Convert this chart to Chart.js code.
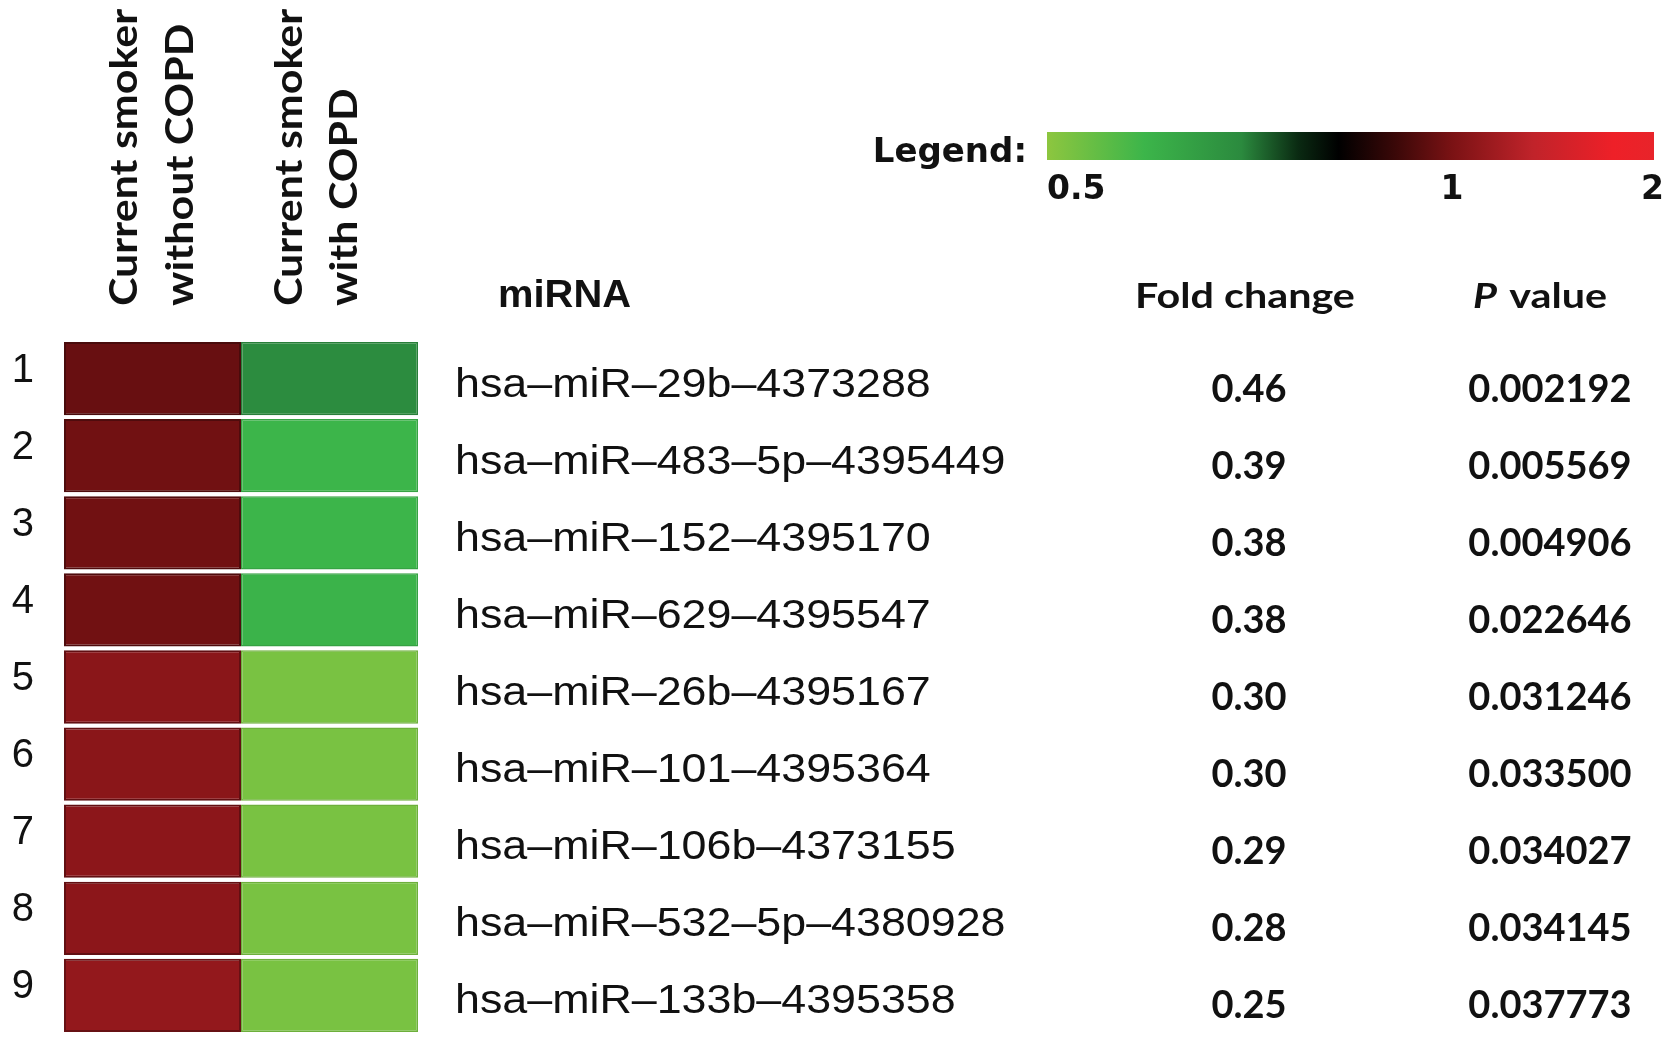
<!DOCTYPE html>
<html>
<head>
<meta charset="utf-8">
<title>miRNA heatmap</title>
<script src="https://cdn.jsdelivr.net/npm/chart.js@4.4.1/dist/chart.umd.min.js"></script>
<style>
  html, body { margin: 0; padding: 0; background: #fff; }
  #wrap { width: 1677px; height: 1048px; position: relative; }
</style>
</head>
<body>
<div id="wrap"><canvas id="heatChart"></canvas></div>
<script>
// --- dados ---
const rowNumbers = ['1', '2', '3', '4', '5', '6', '7', '8', '9'];
const mirnaNames = [
    'hsa–miR–29b–4373288',
    'hsa–miR–483–5p–4395449',
    'hsa–miR–152–4395170',
    'hsa–miR–629–4395547',
    'hsa–miR–26b–4395167',
    'hsa–miR–101–4395364',
    'hsa–miR–106b–4373155',
    'hsa–miR–532–5p–4380928',
    'hsa–miR–133b–4395358'
];
const foldChange = [0.46, 0.39, 0.38, 0.38, 0.30, 0.30, 0.29, 0.28, 0.25];
const pValues = [0.002192, 0.005569, 0.004906, 0.022646, 0.031246, 0.033500, 0.034027, 0.034145, 0.037773];
const groupHeaders = [['Current smoker', 'without COPD'], ['Current smoker', 'with COPD']];
const heatWithoutCOPD = [0.98, 0.99, 0.99, 0.99, 1.09, 1.09, 1.10, 1.10, 1.14];
const heatWithCOPD = [0.735, 0.62, 0.62, 0.625, 0.53, 0.53, 0.53, 0.53, 0.53];
const legendTicks = [0.5, 1, 2];

// escala de cor (valor -> cor), mesma usada na legenda
const colourStops = [
    [0.50, '#8dc63f'],
    [0.62, '#3cb54a'],
    [0.74, '#2b8a3e'],
    [0.81, '#0a2a12'],
    [0.86, '#000000'],
    [0.93, '#3a0808'],
    [1.00, '#7a1214'],
    [1.40, '#c0232a'],
    [1.80, '#ee2028'],
    [2.00, '#e8242a']
];

const hexToRgb = (hex) => {
    const n = parseInt(hex.replace('#', ''), 16);
    return [(n >> 16) & 255, (n >> 8) & 255, n & 255];
};

const heatRgb = (v) => {
    for (let i = 1; i < colourStops.length; i++) {
        const [v1, c1] = colourStops[i];
        if (v <= v1) {
            const [v0, c0] = colourStops[i - 1];
            const t = Math.max(0, (v - v0) / (v1 - v0));
            const a = hexToRgb(c0), b = hexToRgb(c1);
            return a.map((x, k) => Math.round(x + (b[k] - x) * t));
        }
    }
    return hexToRgb(colourStops[colourStops.length - 1][1]);
};

const heatColour = (v) => `rgb(${heatRgb(v).join(',')})`;
// contorno um pouco mais escuro da célula
const heatEdge = (factor) => (v) => `rgb(${heatRgb(v).map((x) => Math.round(x * factor)).join(',')})`;

// posição na barra da legenda (0.5 à esquerda, 1 a 2/3, 2 à direita)
const legendPos = (v) => v <= 1 ? (v - 0.5) / 0.5 * 0.667 : 0.667 + (v - 1) * 0.333;

// texto com esticamento horizontal (a figura original é esticada)
const drawText = (ctx, text, x, y, font, align, stretch) => {
    ctx.save();
    ctx.font = font;
    ctx.textAlign = align;
    ctx.textBaseline = 'alphabetic';
    ctx.translate(x, y);
    ctx.scale(stretch, 1);
    ctx.fillText(text, 0, 0);
    ctx.restore();
};

const tablePlugin = {
    id: 'tableText',
    afterDraw(chart) {
        const { ctx, scales: { y } } = chart;
        ctx.save();
        ctx.fillStyle = '#111';

        // cabeçalhos rotacionados dos grupos
        const headerX = [[137, 193], [302, 357]];
        groupHeaders.forEach((lines, g) => {
            lines.forEach((line, j) => {
                ctx.save();
                ctx.translate(headerX[g][j], 306);
                ctx.rotate(-Math.PI / 2);
                ctx.scale(1.13, 1);
                ctx.font = 'bold 38px Lato';
                ctx.textAlign = 'left';
                ctx.textBaseline = 'alphabetic';
                ctx.fillText(line, 0, 0);
                ctx.restore();
            });
        });

        // cabeçalhos das colunas
        drawText(ctx, 'miRNA', 498, 307, 'bold 38px "Liberation Sans"', 'left', 1.05);
        drawText(ctx, 'Fold change', 1135, 308, 'bold 35px Lato', 'left', 1.18);
        drawText(ctx, 'P', 1473, 308, 'italic bold 35px Lato', 'left', 1.18);
        drawText(ctx, 'value', 1607, 308, 'bold 35px Lato', 'right', 1.18);

        // linhas da tabela
        mirnaNames.forEach((name, i) => {
            const cy = y.getPixelForValue(i);
            drawText(ctx, name, 455, cy + 18, '40px "Liberation Sans"', 'left', 1.12);
            drawText(ctx, foldChange[i].toFixed(2), 1249, cy + 23, 'bold 38px Lato', 'center', 1.0);
            drawText(ctx, pValues[i].toFixed(6), 1550, cy + 23, 'bold 38px Lato', 'center', 1.0);
        });

        // legenda (barra de gradiente)
        const barL = 1047, barR = 1654, barT = 132, barB = 160;
        const grad = ctx.createLinearGradient(barL, 0, barR, 0);
        colourStops.forEach(([v, c]) => grad.addColorStop(legendPos(v), c));
        ctx.fillStyle = grad;
        ctx.fillRect(barL, barT, barR - barL, barB - barT);

        ctx.fillStyle = '#111';
        drawText(ctx, 'Legend:', 1027, 162, 'bold 34px "DejaVu Sans"', 'right', 1);
        legendTicks.forEach((v, k) => {
            const align = k === 0 ? 'left' : (k === legendTicks.length - 1 ? 'right' : 'center');
            let x = barL + legendPos(v) * (barR - barL);
            if (k === legendTicks.length - 1) x += 10;
            drawText(ctx, String(v), x, 199, 'bold 33px "DejaVu Sans"', align, 1);
        });

        ctx.restore();
    }
};

const ctx = document.getElementById('heatChart').getContext('2d');
const heatChart = new Chart(ctx, {
    type: 'bar',
    data: {
        labels: rowNumbers,
        datasets: [
            {
                label: 'Current smoker without COPD',
                data: heatWithoutCOPD.map(() => 1),
                backgroundColor: heatWithoutCOPD.map(heatColour),
                borderColor: heatWithoutCOPD.map(heatEdge(0.7)),
                borderWidth: 2,
                borderSkipped: false,
                barPercentage: 1,
                categoryPercentage: 0.95
            },
            {
                label: 'Current smoker with COPD',
                data: heatWithCOPD.map(() => 1),
                backgroundColor: heatWithCOPD.map(heatColour),
                borderColor: heatWithCOPD.map(heatEdge(0.9)),
                borderWidth: 1.5,
                borderSkipped: false,
                barPercentage: 1,
                categoryPercentage: 0.95
            }
        ]
    },
    options: {
        indexAxis: 'y',
        responsive: true,
        maintainAspectRatio: false,
        animation: false,
        layout: { padding: { top: 340, bottom: 14, left: 0, right: 1259 } },
        plugins: { legend: { display: false }, tooltip: { enabled: false } },
        scales: {
            x: { stacked: true, min: 0, max: 2, display: false },
            y: {
                stacked: true,
                grid: { display: false, drawTicks: false },
                border: { display: false },
                ticks: {
                    color: '#111',
                    font: { family: '"Liberation Sans", Arial', size: 40 },
                    padding: 30,
                    labelOffset: -8
                },
                afterFit: (scale) => {
                    // largura fixa da coluna de números e sem folga extra em cima/baixo
                    scale.width = 64;
                    scale.paddingTop = 0;
                    scale.paddingBottom = 0;
                }
            }
        }
    },
    plugins: [tablePlugin]
});
</script>
</body>
</html>
